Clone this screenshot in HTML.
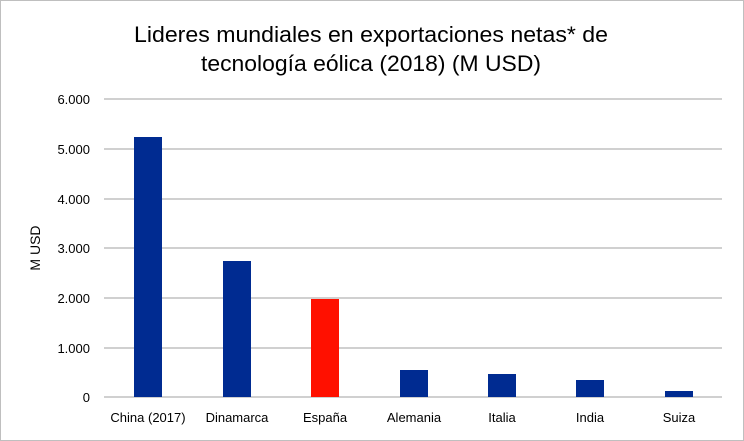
<!DOCTYPE html>
<html><head><meta charset="utf-8"><style>
body{margin:0;background:#fff;}
svg{display:block;font-family:"Liberation Sans",sans-serif;}
</style></head><body>
<svg width="744" height="441" viewBox="0 0 744 441">
<rect x="0.5" y="0.5" width="743" height="440" fill="#fff" stroke="#bfbfbf"/>
<text x="371" y="42" font-size="22.5" text-anchor="middle" fill="#000" textLength="474" lengthAdjust="spacingAndGlyphs">Lideres mundiales en exportaciones netas* de</text>
<text x="371" y="71" font-size="22.5" text-anchor="middle" fill="#000" textLength="340" lengthAdjust="spacingAndGlyphs">tecnología eólica (2018) (M USD)</text>
<g stroke="#c0c0c0" stroke-width="1.5">
<line x1="104" x2="722" y1="99" y2="99"/>
<line x1="104" x2="722" y1="149" y2="149"/>
<line x1="104" x2="722" y1="199" y2="199"/>
<line x1="104" x2="722" y1="248" y2="248"/>
<line x1="104" x2="722" y1="298" y2="298"/>
<line x1="104" x2="722" y1="348" y2="348"/>
<line x1="104" x2="722" y1="397" y2="397"/>
</g>
<g font-size="13" text-anchor="end" fill="#000">
<text x="90" y="104">6.000</text>
<text x="90" y="154">5.000</text>
<text x="90" y="204">4.000</text>
<text x="90" y="253">3.000</text>
<text x="90" y="303">2.000</text>
<text x="90" y="353">1.000</text>
<text x="90" y="402">0</text>
</g>
<text transform="translate(40,248) rotate(-90)" font-size="14" text-anchor="middle">M USD</text>
<g fill="#002b91">
<rect x="134" y="137" width="28" height="260"/>
<rect x="223" y="261" width="28" height="136"/>
<rect x="400" y="370" width="28" height="27"/>
<rect x="488" y="374" width="28" height="23"/>
<rect x="576" y="380" width="28" height="17"/>
<rect x="665" y="391" width="28" height="6"/>
</g>
<rect x="311" y="299" width="28" height="98" fill="#ff1000"/>
<g font-size="13" text-anchor="middle">
<text x="148" y="422">China (2017)</text>
<text x="237" y="422">Dinamarca</text>
<text x="325" y="422">España</text>
<text x="414" y="422">Alemania</text>
<text x="502" y="422">Italia</text>
<text x="590" y="422">India</text>
<text x="679" y="422">Suiza</text>
</g>
</svg>
</body></html>
